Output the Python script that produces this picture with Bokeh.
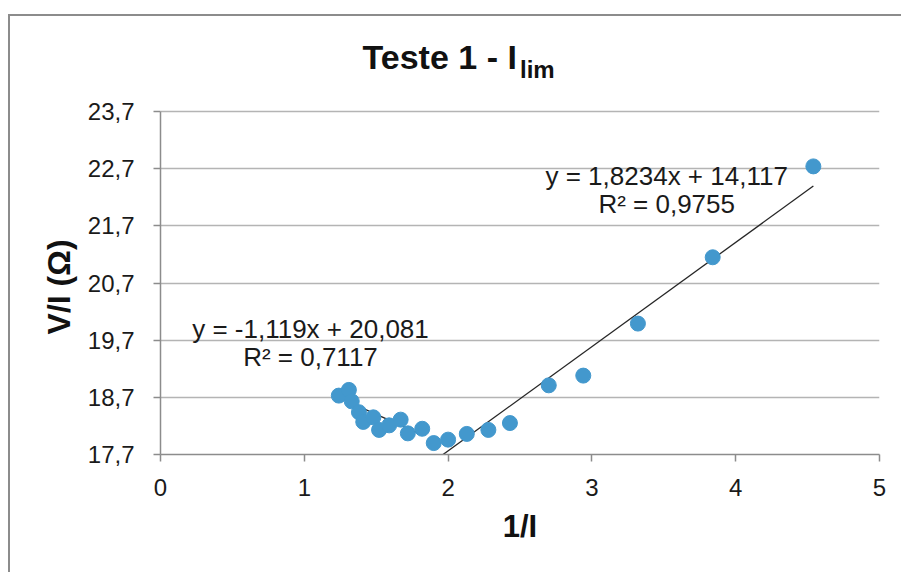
from bokeh.plotting import figure
from bokeh.models import Label, Range1d, FixedTicker, CustomJSTickFormatter, ColumnDataSource
from bokeh.embed import file_html
from bokeh.resources import INLINE

# data: x = 1/I, y = V/I (Ohm)
x_vals = [1.24, 1.31, 1.33, 1.38, 1.41, 1.48, 1.52, 1.59, 1.67, 1.72, 1.82, 1.90,
          2.00, 2.13, 2.28, 2.43, 2.70, 2.94, 3.32, 3.84, 4.54]
y_vals = [18.73, 18.83, 18.63, 18.44, 18.27, 18.35, 18.13, 18.21, 18.31, 18.07, 18.15, 17.90,
          17.96, 18.06, 18.13, 18.25, 18.91, 19.08, 19.99, 21.15, 22.74]

# trend lines (coefficients from chart labels) and their x extents
fit1_coef = [-1.119, 20.081]
fit1_x = [1.24, 1.82]
fit2_coef = [1.8234, 14.117]
fit2_x = [1.90, 4.54]

eq1_text = ["y = -1,119x + 20,081", "R² = 0,7117"]
eq2_text = ["y = 1,8234x + 14,117", "R² = 0,9755"]

x_ticks = [0, 1, 2, 3, 4, 5]
y_ticks = [17.7, 18.7, 19.7, 20.7, 21.7, 22.7, 23.7]

title_main = "Teste 1 - I"
title_sub = "lim"
x_label = "1/I"
y_label = "V/I (Ω)"

FONT = "Liberation Sans"

Y_MIN, Y_MAX = 17.7, 23.7
Y_TOP = Y_MIN + 424 / (343 / 6)   # extra head-room inside the frame for the title

p = figure(width=891, height=556, output_backend="svg", toolbar_location=None,
           x_range=Range1d(0, 5), y_range=Range1d(Y_MIN, Y_TOP),
           frame_width=719, frame_height=424,
           min_border_left=150, min_border_top=14, min_border_right=22, min_border_bottom=118)
p.styles = {"margin-left": "8px", "margin-top": "14px",
            "border-left": "2px solid #8c8c8c", "border-top": "2px solid #8c8c8c"}
p.outline_line_color = None
p.background_fill_color = "white"
p.border_fill_color = "white"

p.xgrid.visible = False
p.ygrid.ticker = FixedTicker(ticks=y_ticks)
p.ygrid.grid_line_color = "#b4b4b4"
p.ygrid.grid_line_width = 1.5

p.xaxis.ticker = FixedTicker(ticks=x_ticks)
p.yaxis.ticker = FixedTicker(ticks=y_ticks)
p.yaxis.bounds = (Y_MIN, Y_MAX)
p.xaxis.formatter = CustomJSTickFormatter(code="return tick.toFixed(0);")
p.yaxis.formatter = CustomJSTickFormatter(code="return tick.toFixed(1).replace('.', ',');")
for ax in (p.xaxis, p.yaxis):
    ax.axis_line_color = "#8c8c8c"
    ax.axis_line_width = 1.5
    ax.major_tick_line_color = "#8c8c8c"
    ax.major_tick_line_width = 1.5
    ax.major_tick_in = 0
    ax.major_tick_out = 7
    ax.minor_tick_line_color = None
    ax.major_label_text_font = FONT
    ax.major_label_text_font_size = "24px"
    ax.major_label_text_color = "#1a1a1a"
    ax.axis_label_text_font = FONT
    ax.axis_label_text_font_style = "bold"
    ax.axis_label_text_color = "#111111"

p.xaxis.axis_label_text_font_size = "31px"
p.yaxis.axis_label_text_font_size = "32px"
p.xaxis.major_label_standoff = 17
p.yaxis.major_label_standoff = 19
p.xaxis.axis_label = x_label
# trailing no-break spaces move the label down so it is centred on the 17,7..23,7 span
p.yaxis.axis_label = y_label + "\u00a0" * 10
p.xaxis.axis_label_standoff = 10
p.yaxis.axis_label_standoff = 8

# trend lines
for coef, xs in ((fit1_coef, fit1_x), (fit2_coef, fit2_x)):
    ys = [coef[0] * xv + coef[1] for xv in xs]
    p.line(xs, ys, line_color="#262626", line_width=1.3)

src = ColumnDataSource(dict(x=x_vals, y=y_vals))
p.scatter("x", "y", source=src, size=15, fill_color="#4398cd", line_color="#4398cd")

# equation labels
def add_eq(lines, x, y, dy):
    for i, t in enumerate(lines):
        p.add_layout(Label(x=x, y=y - i * dy, text=t, text_align="center", text_baseline="middle",
                           text_font=FONT, text_font_size="26px", text_color="#1a1a1a"))

add_eq(eq1_text, 1.043, 19.90, 0.50)
add_eq(eq2_text, 3.52, 22.58, 0.49)

# title with subscript (drawn in the head-room above the 23.7 grid line)
p.add_layout(Label(x=1.405, y=24.645, text=title_main,
                   text_font=FONT, text_font_style="bold", text_font_size="34px",
                   text_color="#111111", text_baseline="middle"))
p.add_layout(Label(x=2.50, y=24.435, text=title_sub,
                   text_font=FONT, text_font_style="bold", text_font_size="24px",
                   text_color="#111111", text_baseline="middle"))

open("out.html", "w").write(file_html(p, INLINE))
